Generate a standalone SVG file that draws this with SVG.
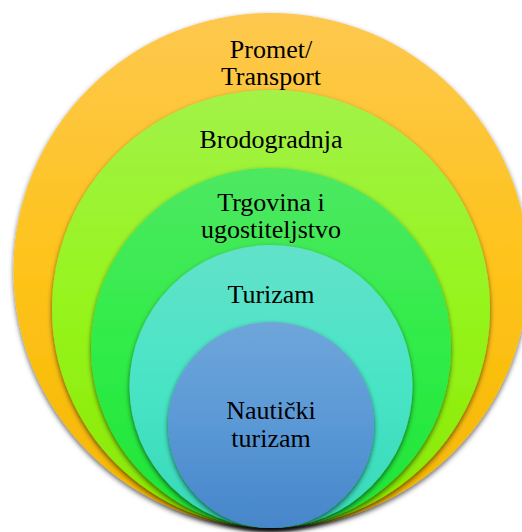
<svg xmlns="http://www.w3.org/2000/svg" width="522" height="532" viewBox="0 0 522 532">
  <defs>
    <linearGradient id="gOrange" x1="0" y1="0" x2="0" y2="1">
      <stop offset="0" stop-color="#FDC84E"/>
      <stop offset="0.5" stop-color="#FEC31A"/>
      <stop offset="1" stop-color="#F4B600"/>
    </linearGradient>
    <linearGradient id="gLime" x1="0" y1="0" x2="0" y2="1">
      <stop offset="0" stop-color="#A2F248"/>
      <stop offset="0.5" stop-color="#96F41C"/>
      <stop offset="1" stop-color="#88E800"/>
    </linearGradient>
    <linearGradient id="gGreen" x1="0" y1="0" x2="0" y2="1">
      <stop offset="0" stop-color="#4EE862"/>
      <stop offset="0.5" stop-color="#30EC48"/>
      <stop offset="1" stop-color="#1EE436"/>
    </linearGradient>
    <linearGradient id="gCyan" x1="0" y1="0" x2="0" y2="1">
      <stop offset="0" stop-color="#62E2CA"/>
      <stop offset="0.5" stop-color="#48E4C6"/>
      <stop offset="1" stop-color="#36D8B8"/>
    </linearGradient>
    <linearGradient id="gBlue" x1="0" y1="0" x2="0" y2="1">
      <stop offset="0" stop-color="#6EA6DA"/>
      <stop offset="0.5" stop-color="#5A98D6"/>
      <stop offset="1" stop-color="#4686CA"/>
    </linearGradient>
    <filter id="shadow" x="-10%" y="-10%" width="120%" height="125%">
      <feDropShadow dx="0" dy="2.5" stdDeviation="2.5" flood-color="#000" flood-opacity="0.6"/>
    </filter>
  </defs>
  <style>
    .ring { filter: url(#shadow); }
    .lbl { font-family: "Liberation Serif", "Times New Roman", serif; font-size: 26px; fill: #000; text-anchor: middle; }
  </style>
  <rect width="522" height="532" fill="#fff"/>
  <g id="promet">
    <circle class="ring" cx="271" cy="270.5" r="257.5" fill="url(#gOrange)"/>
    <text class="lbl" x="271" y="58">Promet/</text>
    <text class="lbl" x="271" y="85">Transport</text>
  </g>
  <g id="brodogradnja">
    <circle class="ring" cx="271" cy="309" r="219" fill="url(#gLime)"/>
    <text class="lbl" x="271" y="148">Brodogradnja</text>
  </g>
  <g id="trgovina">
    <circle class="ring" cx="271" cy="348" r="180" fill="url(#gGreen)"/>
    <text class="lbl" x="271" y="211">Trgovina i</text>
    <text class="lbl" x="271" y="238">ugostiteljstvo</text>
  </g>
  <g id="turizam">
    <circle class="ring" cx="271" cy="386.5" r="141.5" fill="url(#gCyan)"/>
    <text class="lbl" x="271" y="303">Turizam</text>
  </g>
  <g id="nauticki">
    <circle class="ring" cx="271" cy="425" r="103" fill="url(#gBlue)"/>
    <text class="lbl" x="271" y="419">Nautički</text>
    <text class="lbl" x="271" y="447">turizam</text>
  </g>
  <g id="connectors"/>
</svg>
